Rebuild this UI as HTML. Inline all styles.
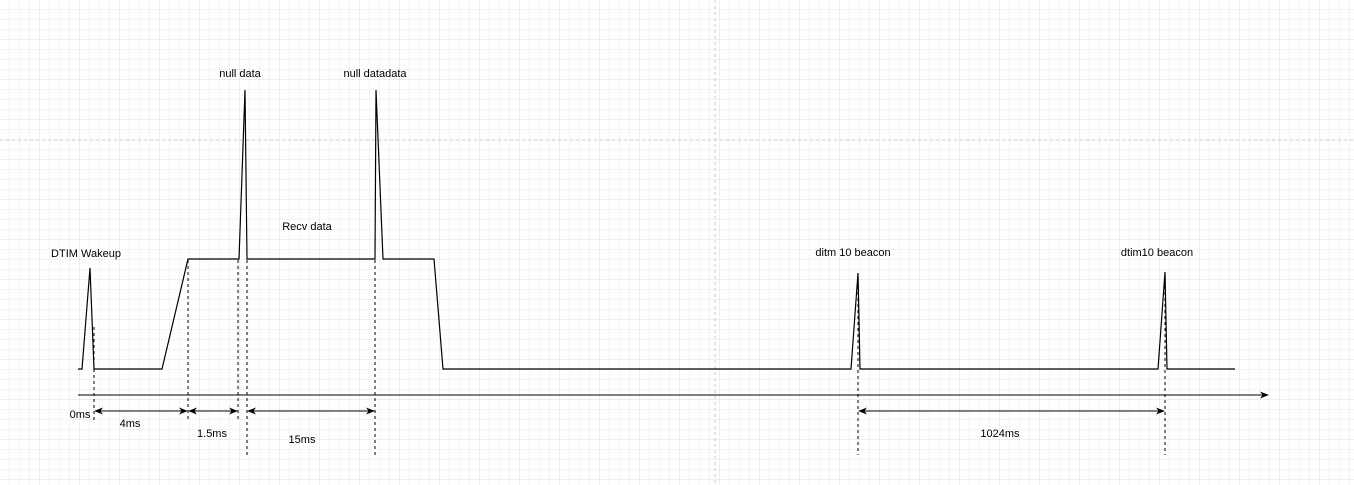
<!DOCTYPE html>
<html><head><meta charset="utf-8"><style>
body{margin:0;background:#fff;}
svg{display:block;font-family:"Liberation Sans",sans-serif;font-size:11px;}
</style></head><body>
<svg width="1354" height="485">
<defs>
<pattern id="g" width="10" height="10" patternUnits="userSpaceOnUse" x="0" y="0"><path d="M10 0V10H0" fill="none" stroke="#eaeaea" stroke-width="1"/></pattern>
<pattern id="G" width="40" height="40" patternUnits="userSpaceOnUse" x="0" y="0"><rect width="40" height="40" fill="url(#g)"/><path d="M40 0V40H0" fill="none" stroke="#dcdcdc" stroke-width="1"/></pattern>
<marker id="a" viewBox="0 0 10 10" refX="9" refY="5" markerWidth="9" markerHeight="9" orient="auto-start-reverse"><path d="M0 1L10 5L0 9L3 5z" fill="#000"/></marker>
</defs>
<rect width="1354" height="485" fill="url(#G)"/>
<line x1="715" y1="0" x2="715" y2="485" stroke="#c8c8c8" stroke-dasharray="3 3"/>
<line x1="0" y1="140" x2="1354" y2="140" stroke="#c8c8c8" stroke-dasharray="3 3"/>
<polyline fill="none" stroke="#000" stroke-width="1.2" points="78,369 82,369 90,268 94,369 162,369 188,259 239,259 245,90 247,259 375,259 376,90 383,259 434,259 443,369 851,369 858,273 860,369 1158,369 1165,272 1167,369 1235,369"/>
<line x1="78" y1="395" x2="1268" y2="395" stroke="#000" marker-end="url(#a)"/>
<g stroke="#000" stroke-dasharray="3 3">
<line x1="94" y1="327" x2="94" y2="420"/><line x1="188" y1="260" x2="188" y2="420"/><line x1="238" y1="260" x2="238" y2="420"/><line x1="247" y1="260" x2="247" y2="455"/><line x1="375" y1="260" x2="375" y2="455"/><line x1="858" y1="280" x2="858" y2="455"/><line x1="1165" y1="280" x2="1165" y2="455"/>
</g>
<g stroke="#000" marker-start="url(#a)" marker-end="url(#a)">
<line x1="95" y1="411" x2="187" y2="411"/><line x1="189" y1="411" x2="237" y2="411"/><line x1="248" y1="411" x2="374" y2="411"/><line x1="859" y1="411" x2="1164" y2="411"/>
</g>
<g text-anchor="middle" fill="#000">
<text x="80" y="418">0ms</text>
<text x="130" y="427">4ms</text>
<text x="212" y="437">1.5ms</text>
<text x="302" y="443">15ms</text>
<text x="1000" y="437">1024ms</text>
<text x="240" y="77">null data</text>
<text x="375" y="77">null datadata</text>
<text x="307" y="230">Recv data</text>
<text x="86" y="257">DTIM Wakeup</text>
<text x="853" y="256">ditm 10 beacon</text>
<text x="1157" y="256">dtim10 beacon</text>
</g>
</svg>
</body></html>
